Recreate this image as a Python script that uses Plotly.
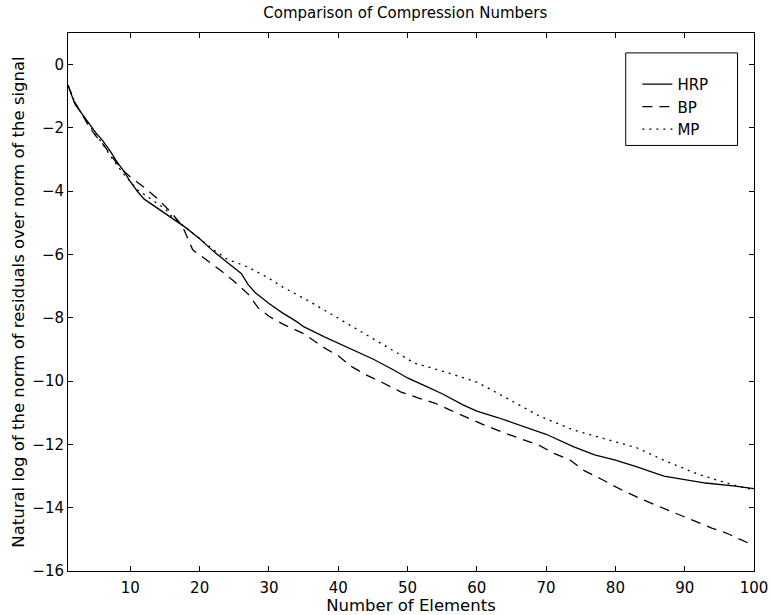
import plotly.graph_objects as go

hrp_x = [1, 2, 3, 4, 5, 6, 7, 8, 9, 10, 11, 12, 14, 16, 18, 20, 22, 24, 26, 27, 28, 30, 32, 34, 35,
         38, 40, 43, 45, 48, 50, 53, 55, 58, 60, 63, 66, 70, 74, 77, 80, 83, 87, 90, 93, 97, 100]
hrp_y = [-0.65, -1.25, -1.55, -1.85, -2.15, -2.4, -2.7, -3.05, -3.35, -3.7, -4.0, -4.25, -4.55,
         -4.85, -5.15, -5.5, -5.9, -6.25, -6.6, -6.95, -7.2, -7.55, -7.85, -8.12, -8.28, -8.6, -8.8,
         -9.1, -9.3, -9.65, -9.9, -10.2, -10.4, -10.75, -10.95, -11.15, -11.38, -11.68, -12.08,
         -12.33, -12.5, -12.7, -13.0, -13.12, -13.22, -13.31, -13.4]

bp_x = [1, 2, 3, 4, 5, 6, 7, 8, 9, 10, 12, 14, 16, 17.5, 19, 21, 23, 25, 27, 28.5, 30, 32, 35, 38,
        40, 42, 44, 46.5, 49, 51.5, 54, 56, 58.5, 61, 64, 66, 69, 71, 73.5, 75.5, 78, 81, 84, 87.5,
        90, 94, 96, 98, 100]
bp_y = [-0.65, -1.2, -1.55, -1.95, -2.25, -2.5, -2.8, -3.1, -3.35, -3.55, -3.88, -4.25, -4.7, -5.1,
        -5.85, -6.17, -6.5, -6.85, -7.25, -7.7, -7.95, -8.2, -8.5, -8.95, -9.2, -9.55, -9.8, -10.06,
        -10.34, -10.53, -10.7, -10.9, -11.15, -11.38, -11.64, -11.8, -12.03, -12.27, -12.5, -12.83,
        -13.1, -13.45, -13.75, -14.07, -14.3, -14.65, -14.8, -15.0, -15.2]

mp_x = [1, 2, 3, 4, 5, 6, 7, 8, 9, 10, 11, 13, 15, 16, 18, 20, 22, 24, 27, 30, 32, 36, 41, 46, 51,
        56, 60, 64, 69, 74, 78, 83, 87, 92, 97, 100]
mp_y = [-0.65, -1.2, -1.55, -1.9, -2.2, -2.5, -2.85, -3.15, -3.45, -3.7, -3.95, -4.25, -4.55, -4.8,
        -5.15, -5.5, -5.85, -6.15, -6.4, -6.75, -7.03, -7.5, -8.15, -8.8, -9.43, -9.75, -10.03,
        -10.5, -11.1, -11.55, -11.8, -12.1, -12.5, -12.95, -13.28, -13.44]

x_ticks = [10, 20, 30, 40, 50, 60, 70, 80, 90, 100]
y_ticks = [0, -2, -4, -6, -8, -10, -12, -14, -16]

FONT = "DejaVu Sans, Liberation Sans, Arial, sans-serif"

fig = go.Figure()
fig.add_trace(go.Scatter(x=hrp_x, y=hrp_y, mode="lines", name="HRP",
                         line=dict(color="black", width=1.3)))
fig.add_trace(go.Scatter(x=bp_x, y=bp_y, mode="lines", name="BP",
                         line=dict(color="black", width=1.3, dash="10px,7px")))
fig.add_trace(go.Scatter(x=mp_x, y=mp_y, mode="lines", name="MP",
                         line=dict(color="black", width=1.3, dash="2px,5px")))

axis_common = dict(showgrid=False, zeroline=False, showline=True, linecolor="black", linewidth=1,
                   mirror="ticks", ticks="inside", ticklen=5, tickcolor="black", automargin=False,
                   tickfont=dict(family=FONT, size=15, color="black"))

fig.update_layout(
    width=772, height=615,
    margin=dict(l=68, r=18, t=33, b=44),
    paper_bgcolor="white", plot_bgcolor="white",
    title=dict(text="Comparison of Compression Numbers", x=0.525, xanchor="center",
               y=0.988, yanchor="top", font=dict(family=FONT, size=15, color="black")),
    xaxis=dict(range=[1, 100], tickvals=x_ticks, ticklabelstandoff=3,
               title=dict(text="Number of Elements", standoff=0,
                          font=dict(family=FONT, size=16.5, color="black")),
               **axis_common),
    yaxis=dict(range=[-16, 1], tickvals=y_ticks,
               ticktext=[str(v) if v == 0 else "\u2212" + str(-v) for v in y_ticks],
               title=dict(text="Natural log of the norm of residuals over norm of the signal", standoff=3,
                          font=dict(family=FONT, size=16.5, color="black")),
               **axis_common),
    showlegend=True,
    legend=dict(x=0.83, y=0.935, xanchor="left", yanchor="top", bgcolor="rgba(0,0,0,0)",
                borderwidth=0, font=dict(family=FONT, size=15, color="black"),
                tracegroupgap=0, itemwidth=30),
    shapes=[dict(type="rect", xref="paper", yref="paper", x0=0.813, x1=0.976, y0=0.791, y1=0.963,
                 line=dict(color="black", width=1), fillcolor="rgba(0,0,0,0)")],
)

fig.write_html("out.html")
